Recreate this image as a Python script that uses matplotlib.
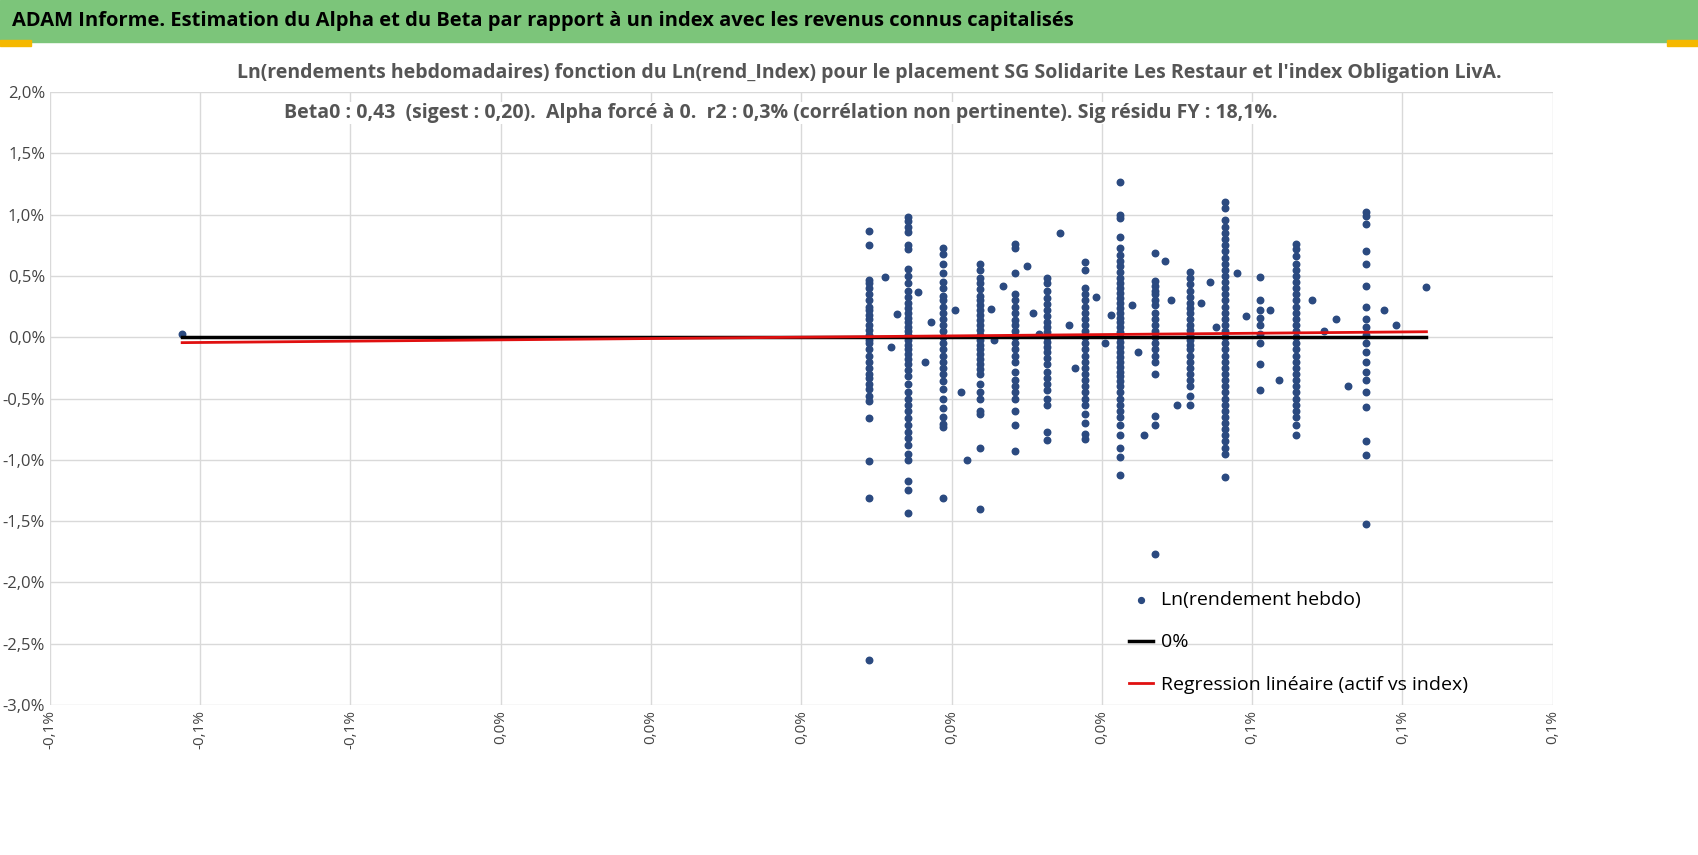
import matplotlib.pyplot as plt
import numpy as np

# values in percent
col_x = [0.0113, 0.0177, 0.0235, 0.0297, 0.0355, 0.0408, 0.0472, 0.0530,
         0.0588, 0.0647, 0.0705, 0.0763, 0.0823, 0.0940]
col_y = [
    [0.87, 0.75, 0.47, 0.44, 0.40, 0.35, 0.30, 0.25, 0.22, 0.18, 0.15, 0.10, 0.06, 0.02, -0.02, -0.05, -0.10,
     -0.15, -0.20, -0.25, -0.30, -0.33, -0.38, -0.42, -0.48, -0.52, -0.66, -1.01, -1.31, -2.63],
    [0.98, 0.95, 0.90, 0.86, 0.75, 0.72, 0.56, 0.50, 0.44, 0.38, 0.33, 0.28, 0.24, 0.20, 0.16, 0.12, 0.08, 0.05,
     0.02, -0.02, -0.06, -0.10, -0.14, -0.18, -0.22, -0.27, -0.32, -0.38, -0.45, -0.50, -0.55, -0.60, -0.66,
     -0.72, -0.77, -0.82, -0.88, -0.95, -1.00, -1.17, -1.25, -1.43],
    [0.73, 0.68, 0.60, 0.52, 0.45, 0.40, 0.34, 0.30, 0.25, 0.20, 0.15, 0.10, 0.05, 0.00, -0.05, -0.10, -0.15,
     -0.20, -0.25, -0.30, -0.36, -0.42, -0.50, -0.58, -0.65, -0.71, -0.73, -1.31],
    [0.60, 0.55, 0.48, 0.44, 0.39, 0.34, 0.30, 0.26, 0.22, 0.18, 0.14, 0.10, 0.06, 0.02, -0.02, -0.06, -0.10,
     -0.14, -0.18, -0.22, -0.26, -0.30, -0.38, -0.45, -0.50, -0.60, -0.63, -0.90, -1.40],
    [0.76, 0.73, 0.52, 0.35, 0.30, 0.25, 0.20, 0.14, 0.10, 0.05, 0.00, -0.05, -0.10, -0.15, -0.20, -0.28, -0.35,
     -0.40, -0.45, -0.50, -0.60, -0.72, -0.93],
    [0.48, 0.44, 0.38, 0.32, 0.27, 0.22, 0.17, 0.12, 0.08, 0.04, 0.00, -0.04, -0.08, -0.12, -0.17, -0.22, -0.28,
     -0.33, -0.38, -0.43, -0.50, -0.55, -0.77, -0.84],
    [0.61, 0.55, 0.40, 0.35, 0.30, 0.25, 0.20, 0.15, 0.10, 0.05, 0.00, -0.05, -0.10, -0.15, -0.20, -0.25, -0.30,
     -0.35, -0.40, -0.45, -0.50, -0.55, -0.63, -0.70, -0.79, -0.83],
    [1.27, 1.00, 0.97, 0.82, 0.73, 0.67, 0.62, 0.58, 0.53, 0.48, 0.44, 0.40, 0.36, 0.32, 0.28, 0.24, 0.20, 0.16,
     0.12, 0.08, 0.04, 0.00, -0.04, -0.08, -0.12, -0.16, -0.20, -0.24, -0.28, -0.32, -0.36, -0.40, -0.45, -0.50,
     -0.55, -0.60, -0.65, -0.72, -0.80, -0.90, -0.98, -1.12],
    [0.69, 0.46, 0.42, 0.38, 0.35, 0.30, 0.26, 0.20, 0.15, 0.10, 0.05, 0.00, -0.05, -0.10, -0.15, -0.20, -0.30,
     -0.64, -0.72, -1.77],
    [0.53, 0.48, 0.43, 0.38, 0.33, 0.28, 0.24, 0.20, 0.15, 0.10, 0.06, 0.02, -0.02, -0.06, -0.10, -0.15, -0.20,
     -0.25, -0.30, -0.35, -0.40, -0.48, -0.55],
    [1.10, 1.05, 0.96, 0.90, 0.85, 0.80, 0.75, 0.70, 0.65, 0.60, 0.55, 0.50, 0.45, 0.40, 0.35, 0.30, 0.25, 0.20,
     0.15, 0.10, 0.05, 0.00, -0.05, -0.10, -0.15, -0.20, -0.25, -0.30, -0.35, -0.40, -0.45, -0.50, -0.55, -0.60,
     -0.65, -0.70, -0.75, -0.80, -0.85, -0.90, -0.95, -1.14],
    [0.49, 0.30, 0.22, 0.16, 0.10, 0.03, -0.05, -0.22, -0.43],
    [0.76, 0.72, 0.66, 0.60, 0.55, 0.50, 0.45, 0.40, 0.35, 0.30, 0.25, 0.20, 0.15, 0.10, 0.05, 0.00, -0.05,
     -0.10, -0.15, -0.20, -0.25, -0.30, -0.35, -0.40, -0.45, -0.50, -0.55, -0.60, -0.65, -0.72, -0.80],
    [1.02, 0.99, 0.92, 0.70, 0.60, 0.42, 0.25, 0.15, 0.08, 0.02, -0.05, -0.12, -0.20, -0.28, -0.35, -0.45,
     -0.57, -0.85, -0.96, -1.52],
]
extra_x = [-0.1030, 0.0140, 0.0150, 0.0160, 0.0195, 0.0205, 0.0215, 0.0255, 0.0265, 0.0275, 0.0315, 0.0320,
           0.0335, 0.0375, 0.0385, 0.0395, 0.0430, 0.0445, 0.0455, 0.0490, 0.0505, 0.0515, 0.0550, 0.0560,
           0.0570, 0.0605, 0.0615, 0.0625, 0.0665, 0.0680, 0.0690, 0.0725, 0.0740, 0.0780, 0.0795, 0.0850,
           0.0870, 0.0890, 0.0910, 0.0970, 0.0990, 0.1040]
extra_y = [0.03, 0.49, -0.08, 0.19, 0.37, -0.20, 0.12, 0.22, -0.45, -1.00, 0.23, -0.02, 0.42, 0.58, 0.20,
           0.03, 0.85, 0.10, -0.25, 0.33, -0.05, 0.18, 0.26, -0.12, -0.80, 0.62, 0.30, -0.55, 0.28, 0.45,
           0.08, 0.52, 0.17, 0.22, -0.35, 0.30, 0.05, 0.15, -0.40, 0.22, 0.10, 0.41]

beta = 0.43
x_lo, x_hi = -0.1030, 0.1040
xticks = [-0.125, -0.1, -0.075, -0.05, -0.025, 0.0, 0.025, 0.05, 0.075, 0.1, 0.125]
xtick_labels = ["-0,1%", "-0,1%", "-0,1%", "0,0%", "0,0%", "0,0%", "0,0%", "0,0%", "0,1%", "0,1%", "0,1%"]
yticks = [-3.0, -2.5, -2.0, -1.5, -1.0, -0.5, 0.0, 0.5, 1.0, 1.5, 2.0]

plt.rcParams['font.family'] = ['Open Sans', 'DejaVu Sans']
fig = plt.figure(figsize=(16.98, 8.55), dpi=100)

# green header bar
fig.patches.append(plt.Rectangle((0, 0.951), 1, 0.049, transform=fig.transFigure, color="#7cc57a", zorder=0))
fig.patches.append(plt.Rectangle((0, 0.946), 0.018, 0.007, transform=fig.transFigure, color="#f5b800"))
fig.patches.append(plt.Rectangle((0.982, 0.946), 0.018, 0.007, transform=fig.transFigure, color="#f5b800"))
fig.text(0.007, 0.975, "ADAM Informe. Estimation du Alpha et du Beta par rapport à un index avec les revenus connus capitalisés",
         fontsize=14.5, fontweight="bold", va="center", ha="left", color="black")

ax = fig.add_axes([0.0294, 0.1754, 0.885, 0.717])
xs = np.concatenate([np.full(len(v), x) for x, v in zip(col_x, col_y)] + [np.array(extra_x)])
ys = np.concatenate([np.array(v) for v in col_y] + [np.array(extra_y)])
ax.scatter(xs, ys, s=22, color="#2b4a80", zorder=3, label="Ln(rendement hebdo)")
ax.plot([x_lo, x_hi], [0, 0], color="black", lw=2.5, zorder=4, label="0%")
ax.plot([x_lo, x_hi], [beta * x_lo, beta * x_hi], color="#e01010", lw=2, zorder=5,
        label="Regression linéaire (actif vs index)")

ax.set_xlim(-0.125, 0.125)
ax.set_ylim(-3.0, 2.0)
ax.set_xticks(xticks)
ax.set_xticklabels(xtick_labels, rotation=90, fontsize=11, color="#444444")
ax.set_yticks(yticks)
ax.set_yticklabels([f"{v:.1f}%".replace(".", ",") for v in yticks], fontsize=12, color="#444444")
ax.grid(True, color="#d9d9d9", lw=1)
ax.set_axisbelow(True)
for s in ax.spines.values():
    s.set_visible(False)
ax.tick_params(length=0)

title_kw = dict(fontsize=14, fontweight="bold", color="#555555", ha="center", va="center",
                bbox=dict(facecolor="white", edgecolor="none", pad=1), zorder=10)
fig.text(0.512, 1 - 73 / 855, "Ln(rendements hebdomadaires) fonction du Ln(rend_Index) pour le placement SG Solidarite Les Restaur et l'index Obligation LivA.", **title_kw)
fig.text(0.460, 1 - 113 / 855, "Beta0 : 0,43  (sigest : 0,20).  Alpha forcé à 0.  r2 : 0,3% (corrélation non pertinente). Sig résidu FY : 18,1%.", **title_kw)

ax.legend(loc="lower right", bbox_to_anchor=(0.955, -0.01), frameon=False, fontsize=14,
          handlelength=1.2, labelspacing=1.25, handletextpad=0.4, markerscale=0.9)

fig.savefig("out.png", dpi=100)
